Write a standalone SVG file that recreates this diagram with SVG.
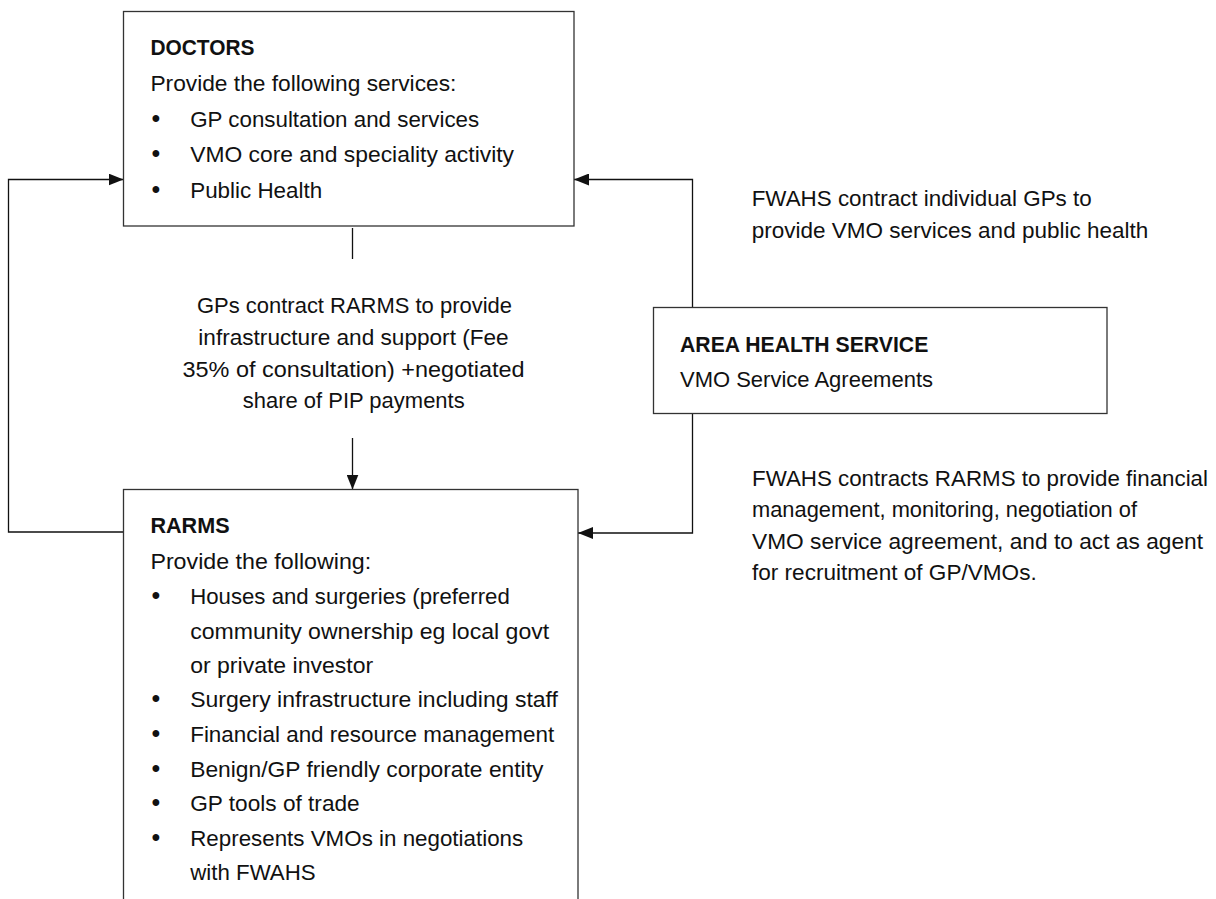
<svg xmlns="http://www.w3.org/2000/svg" width="1216" height="899" viewBox="0 0 1216 899">
<style>
  text { font-family: "Liberation Sans", Arial, sans-serif; font-size: 22.5px; fill: #111; }
  .b { font-weight: bold; }
  .bul { font-size: 25px; }
  .box { fill: #fff; stroke: #333; stroke-width: 1.3; }
  .conn { fill: none; stroke: #111; stroke-width: 1.3; }
</style>
<defs>
  <marker id="arr" markerUnits="userSpaceOnUse" markerWidth="15" markerHeight="12" refX="15" refY="6" orient="auto">
    <path d="M0,0 L15,6 L0,12 z" fill="#111"/>
  </marker>
</defs>
<rect width="1216" height="899" fill="#fff"/>

<g id="connectors">
  <path class="conn" d="M123.5,532 H8.5 V179.5 H123.5" marker-end="url(#arr)"/>
  <path class="conn" d="M352.5,228 V259"/>
  <path class="conn" d="M352.5,438 V489.5" marker-end="url(#arr)"/>
  <path class="conn" d="M692.5,307.5 V179.5 H574" marker-end="url(#arr)"/>
  <path class="conn" d="M692.5,413.5 V533 H578" marker-end="url(#arr)"/>
</g>

<g id="doctors">
  <rect class="box" x="123.5" y="11.5" width="450.5" height="214.5"/>
  <text class="b" x="150.4" y="55" textLength="104" lengthAdjust="spacingAndGlyphs">DOCTORS</text>
  <text x="150.4" y="90.5" textLength="306" lengthAdjust="spacingAndGlyphs">Provide the following services:</text>
  <text class="bul" x="151.6" y="126.5">•</text>
  <text x="190.2" y="126.5" textLength="289" lengthAdjust="spacingAndGlyphs">GP consultation and services</text>
  <text class="bul" x="151.6" y="162.3">•</text>
  <text x="190.2" y="162.3" textLength="323.8" lengthAdjust="spacingAndGlyphs">VMO core and speciality activity</text>
  <text class="bul" x="151.6" y="198">•</text>
  <text x="190.2" y="198" textLength="132" lengthAdjust="spacingAndGlyphs">Public Health</text>
</g>

<g id="label-gps">
  <text x="197" y="313.3" textLength="315" lengthAdjust="spacingAndGlyphs">GPs contract RARMS to provide</text>
  <text x="198.3" y="345" textLength="310.4" lengthAdjust="spacingAndGlyphs">infrastructure and support (Fee</text>
  <text x="182.5" y="376.7" textLength="342" lengthAdjust="spacingAndGlyphs">35% of consultation) +negotiated</text>
  <text x="242.7" y="408.3" textLength="222" lengthAdjust="spacingAndGlyphs">share of PIP payments</text>
</g>

<g id="area-health-service">
  <rect class="box" x="653.5" y="307.5" width="453.5" height="106"/>
  <text class="b" x="680" y="351.7" textLength="248.3" lengthAdjust="spacingAndGlyphs">AREA HEALTH SERVICE</text>
  <text x="680" y="387.3" textLength="253" lengthAdjust="spacingAndGlyphs">VMO Service Agreements</text>
</g>

<g id="label-fwahs-gps">
  <text x="751.7" y="205.5" textLength="340" lengthAdjust="spacingAndGlyphs">FWAHS contract individual GPs to</text>
  <text x="751.7" y="237.8" textLength="396.6" lengthAdjust="spacingAndGlyphs">provide VMO services and public health</text>
</g>

<g id="label-fwahs-rarms">
  <text x="752" y="485.5" textLength="456" lengthAdjust="spacingAndGlyphs">FWAHS contracts RARMS to provide financial</text>
  <text x="752" y="517" textLength="385" lengthAdjust="spacingAndGlyphs">management, monitoring, negotiation of</text>
  <text x="752" y="548.5" textLength="451" lengthAdjust="spacingAndGlyphs">VMO service agreement, and to act as agent</text>
  <text x="752" y="580" textLength="284.7" lengthAdjust="spacingAndGlyphs">for recruitment of GP/VMOs.</text>
</g>

<g id="rarms">
  <rect class="box" x="123.5" y="489.5" width="454.5" height="420"/>
  <text class="b" x="150.4" y="533.3" textLength="79.2" lengthAdjust="spacingAndGlyphs">RARMS</text>
  <text x="150.4" y="569" textLength="220.8" lengthAdjust="spacingAndGlyphs">Provide the following:</text>
  <text class="bul" x="151.6" y="604">•</text>
  <text x="190.2" y="604" textLength="319.6" lengthAdjust="spacingAndGlyphs">Houses and surgeries (preferred</text>
  <text x="190.2" y="638.5" textLength="359" lengthAdjust="spacingAndGlyphs">community ownership eg local govt</text>
  <text x="190.2" y="672.5" textLength="183" lengthAdjust="spacingAndGlyphs">or private investor</text>
  <text class="bul" x="151.6" y="707">•</text>
  <text x="190.2" y="707" textLength="367.8" lengthAdjust="spacingAndGlyphs">Surgery infrastructure including staff</text>
  <text class="bul" x="151.6" y="741.7">•</text>
  <text x="190.2" y="741.7" textLength="364" lengthAdjust="spacingAndGlyphs">Financial and resource management</text>
  <text class="bul" x="151.6" y="776.5">•</text>
  <text x="190.2" y="776.5" textLength="353.2" lengthAdjust="spacingAndGlyphs">Benign/GP friendly corporate entity</text>
  <text class="bul" x="151.6" y="811.3">•</text>
  <text x="190.2" y="811.3" textLength="169.5" lengthAdjust="spacingAndGlyphs">GP tools of trade</text>
  <text class="bul" x="151.6" y="846">•</text>
  <text x="190.2" y="846" textLength="333" lengthAdjust="spacingAndGlyphs">Represents VMOs in negotiations</text>
  <text x="190.2" y="880" textLength="125.5" lengthAdjust="spacingAndGlyphs">with FWAHS</text>
</g>
</svg>
